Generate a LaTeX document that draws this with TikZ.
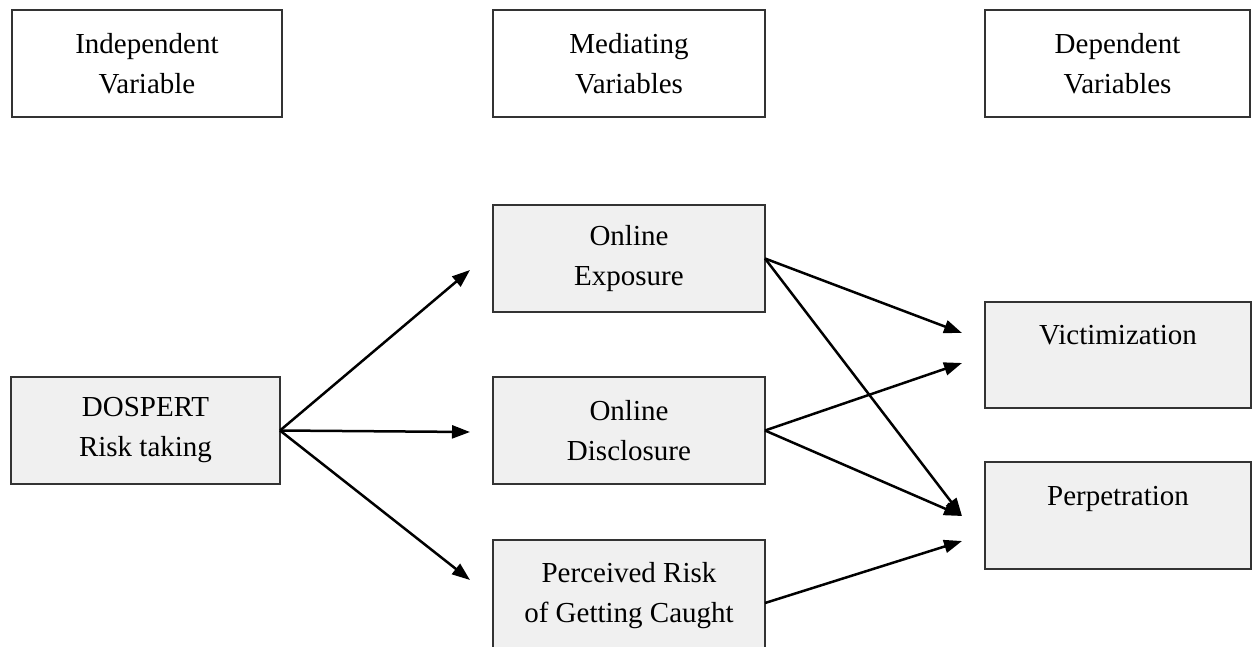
\documentclass[tikz,border=0pt]{standalone}
\usepackage{fontspec}
\setmainfont{Liberation Serif}
\usetikzlibrary{arrows.meta,positioning}
\tikzset{
  headbox/.style={
    rectangle,
    draw=black!80,
    line width=1.8pt,
    fill=white,
    align=center,
    minimum width=270pt,
    minimum height=107pt,
    inner sep=0pt,
    outer sep=0pt,
    font=\fontsize{29}{40}\selectfont
  },
  varbox/.style={
    headbox,
    fill=black!6
  },
  pathline/.style={-{Triangle[length=18pt,width=13pt]},line width=2.5pt}
}
\begin{document}
\begin{tikzpicture}[x=1pt,y=-1pt]
  \useasboundingbox (0,0) rectangle (1252,646);
  \clip (0,0) rectangle (1252,646);
  % header row
  \node[headbox] (indep) at (147,63.5) {Independent\\Variable};
  \node[headbox, minimum width=272pt, right=211pt of indep] (med) {Mediating\\Variables};
  \node[headbox, minimum width=265pt, right=220pt of med] (dep) {Dependent\\Variables};
  % variables
  \node[varbox, minimum width=272pt, below=88pt of med] (expo) {Online\\Exposure};
  \node[varbox, minimum width=272pt, below=65pt of expo] (disc) {Online\\Disclosure};
  \node[varbox, minimum width=272pt, minimum height=112pt, below=56pt of disc] (percv) {Perceived Risk\\of Getting Caught};
  \node[varbox, minimum width=269pt, left=213pt of disc] (dosp) {DOSPERT\\Risk taking};
  \node[varbox, minimum width=266pt, minimum height=106pt] (victim) at (1118,355) {Victimization\\\mbox{}};
  \node[varbox, minimum width=266pt, below=54pt of victim] (perp) {Perpetration\\\mbox{}};
  % arrow ends
  \coordinate (toexpo) at (470,270);
  \coordinate (todisc) at (470,432);
  \coordinate (topercv) at (470,580);
  \coordinate (tovicA) at (962,333);
  \coordinate (tovicB) at (962,363);
  \coordinate (toperpA) at (962,516);
  \coordinate (toperpB) at (962,541);
  \draw[pathline] (dosp.east) -- (toexpo);
  \draw[pathline] (dosp.east) -- (todisc);
  \draw[pathline] (dosp.east) -- (topercv);
  \draw[pathline] (expo.east) -- (tovicA);
  \draw[pathline] (expo.east) -- (toperpA);
  \draw[pathline] (disc.east) -- (tovicB);
  \draw[pathline] (disc.east) -- (toperpA);
  \draw[pathline] ([yshift=-7pt]percv.east) -- (toperpB);
\end{tikzpicture}
\end{document}
